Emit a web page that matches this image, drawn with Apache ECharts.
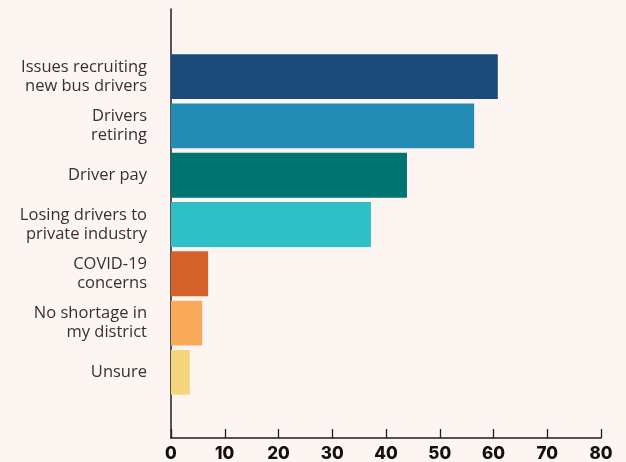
<!DOCTYPE html>
<html>
<head>
<meta charset="utf-8">
<script src="https://cdn.jsdelivr.net/npm/echarts@6/dist/echarts.min.js"></script>
<style>
  html, body { margin: 0; padding: 0; background: #fdf5f2; }
  #chart { width: 626px; height: 462px; }
</style>
</head>
<body>
<div id="chart"></div>
<script>
// Reasons given for the bus driver shortage (percent of respondents)
const categories = [
  'Issues recruiting\nnew bus drivers',
  'Drivers\nretiring',
  'Driver pay',
  'Losing drivers to\nprivate industry',
  'COVID-19\nconcerns',
  'No shortage in\nmy district',
  'Unsure'
];
const values = [60.8, 56.4, 43.9, 37.2, 6.9, 5.8, 3.5];
const barColors = ['#1b4b7a', '#248bb5', '#007470', '#2ebfc7', '#d4622a', '#f9a95a', '#f6d67a'];
const xTicks = { min: 0, max: 80, interval: 10 };

const chart = echarts.init(document.getElementById('chart'), null, { renderer: 'canvas' });

chart.setOption({
  backgroundColor: '#fdf5f2',
  animation: false,
  grid: [
    // outer frame: carries the visible axis lines and ticks
    { left: 171, right: 25, top: 9, bottom: 24, containLabel: false },
    // inner band: carries the bars and category labels
    { left: 171, right: 25, top: 52, height: 345, containLabel: false }
  ],
  xAxis: [
    {
      gridIndex: 0, type: 'value', min: xTicks.min, max: xTicks.max, interval: xTicks.interval,
      axisLine: { show: true, lineStyle: { color: '#1e1e1e', width: 1.5 } },
      axisTick: { show: true, inside: true, length: 9, lineStyle: { color: '#1e1e1e', width: 1.3 } },
      axisLabel: {
        margin: 7, color: '#111', fontSize: 17, fontWeight: 800,
        fontFamily: 'Inter, "DejaVu Sans", sans-serif'
      },
      splitLine: { show: false }
    },
    {
      gridIndex: 1, type: 'value', min: xTicks.min, max: xTicks.max, interval: xTicks.interval,
      show: false
    }
  ],
  yAxis: [
    {
      gridIndex: 0, type: 'category', data: [''],
      axisLine: { show: true, lineStyle: { color: '#1e1e1e', width: 1.5 } },
      axisTick: { show: false }, axisLabel: { show: false }
    },
    {
      gridIndex: 1, type: 'category', data: categories, inverse: true,
      axisLine: { show: false }, axisTick: { show: false },
      axisLabel: {
        margin: 24, color: '#333', fontSize: 16.5, lineHeight: 19, align: 'right',
        fontFamily: '"Open Sans", Lato, sans-serif'
      }
    }
  ],
  series: [{
    type: 'bar',
    xAxisIndex: 1, yAxisIndex: 1,
    barCategoryGap: '9%',
    data: values.map((v, i) => ({ value: v, itemStyle: { color: barColors[i] } }))
  }]
});
</script>
</body>
</html>
